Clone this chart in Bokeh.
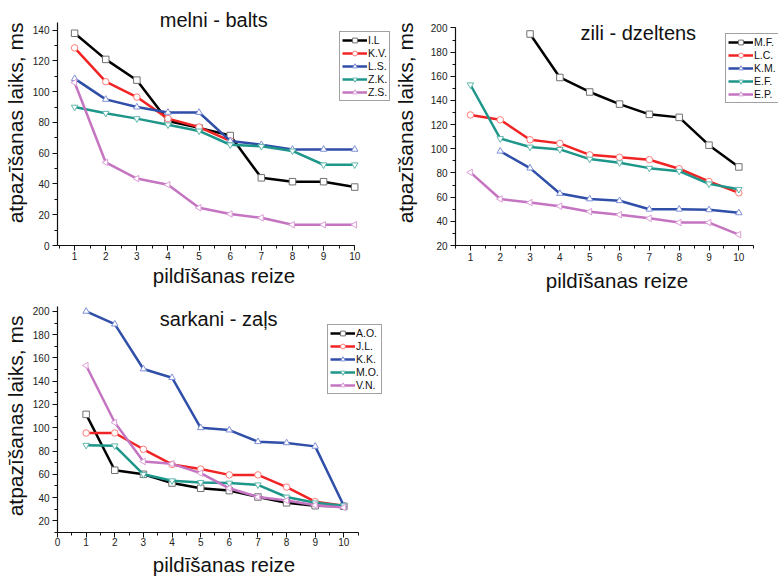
import math
from bokeh.plotting import figure
from bokeh.layouts import column, row
from bokeh.models import Range1d, SingleIntervalTicker, Label
from bokeh.embed import file_html
from bokeh.resources import INLINE

nan = float("nan")
reize = [1, 2, 3, 4, 5, 6, 7, 8, 9, 10]

# melni - balts
mb_names = ["I.L", "K.V.", "L.S.", "Z.K.", "Z.S."]
mb_IL = [138, 121, 107.5, 81, 76.5, 71.5, 44, 41.5, 41.5, 38]
mb_KV = [128.5, 106.5, 96.5, 82.5, 77, 68, nan, nan, nan, nan]
mb_LS = [108.5, 95, 90, 86.5, 86.5, 68, 65.5, 62.5, 62.5, 62.5]
mb_ZK = [90, 86, 82.5, 78.5, 74.5, 65.5, 64.5, 61.5, 52.5, 52.5]
mb_ZS = [106, 54, 43.5, 39.5, 24.5, 20.5, 18, 13.5, 13.5, 13.5]

# zili - dzeltens
zd_names = ["M.F.", "L.C.", "K.M.", "E.F.", "E.P."]
zd_MF = [nan, nan, 195, 159, 147, 137, 128.5, 126, 103, 85]
zd_LC = [128, 124, 107.5, 104.5, 95, 93, 91, 83.5, 73, 63.5]
zd_KM = [nan, 98, 84, 63, 58.5, 57, 50, 50, 49.5, 47]
zd_EF = [153, 108.5, 101.5, 99.5, 91.5, 88.5, 84, 81.5, 71, 66.5]
zd_EP = [80.5, 58.5, 55.5, 52.5, 48, 45.5, 42.5, 39, 39, 29]

# sarkani - zaļs
sz_names = ["A.O.", "J.L.", "K.K.", "M.O.", "V.N."]
sz_AO = [111.5, 63.5, 60, 52.5, 48, 46, 40.5, 35.5, 33, 32.5]
sz_JL = [95.5, 95.5, 81.5, 68.5, 64.5, 59.5, 59.5, 49, 36.5, 33]
sz_KK = [200, 189, 150.5, 143, 100, 98, 88, 87, 84, 33]
sz_MO = [85, 84.5, 60, 54.5, 53, 52.5, 51, 40.5, 35.5, 33]
sz_VN = [153.5, 104.5, 71, 69, 61, 48, 40.5, 37.5, 33.5, 31.5]

line_colors = ["#000000", "#f02424", "#2f4fa8", "#1e968a", "#c474c0"]
marker_colors = ["#707070", "#ff7a7a", "#7f90d6", "#5fb8ad", "#dc9ed8"]
markers = ["square", "circle", "triangle", "inverted_triangle", "triangle"]
angles = [0, 0, 0, 0, math.pi / 2]

FONT = "Liberation Sans"


def make_panel(w, h, xr, yr, xbounds, ybounds, borders, series, names, title, title_xy,
               legend_loc, x_std, y_std):
    p = figure(width=w, height=h, x_range=Range1d(*xr), y_range=Range1d(*yr),
               output_backend="svg", toolbar_location=None,
               min_border_left=borders[0], min_border_right=0,
               min_border_top=0, min_border_bottom=borders[1])
    p.grid.visible = False
    p.outline_line_color = None
    p.background_fill_color = "white"
    p.border_fill_color = "white"

    for ys, name, lc, mc, mk, ang in zip(series, names, line_colors, marker_colors, markers, angles):
        p.line(reize, ys, line_color=lc, line_width=2.5, legend_label=name)
        p.scatter(reize, ys, marker=mk, size=6.5, angle=ang, fill_color="white",
                  line_color=mc, line_width=1, legend_label=name)

    xa = p.xaxis[0]
    xa.ticker = SingleIntervalTicker(interval=1, num_minor_ticks=2)
    xa.bounds = xbounds
    xa.axis_label = "pildīšanas reize"
    xa.major_label_standoff = x_std[0]
    xa.axis_label_standoff = x_std[1]

    ya = p.yaxis[0]
    ya.ticker = SingleIntervalTicker(interval=20, num_minor_ticks=2)
    ya.bounds = ybounds
    ya.axis_label = "atpazīšanas laiks, ms"
    ya.major_label_standoff = y_std[0]
    ya.axis_label_standoff = y_std[1]

    for ax in (xa, ya):
        ax.axis_line_color = "#111111"
        ax.axis_line_width = 1.2
        ax.major_tick_in = 0
        ax.major_tick_out = 5
        ax.minor_tick_in = 0
        ax.minor_tick_out = 3
        ax.major_tick_line_color = "#111111"
        ax.minor_tick_line_color = "#111111"
        ax.major_label_text_font = FONT
        ax.major_label_text_font_size = "10px"
        ax.major_label_text_color = "#222222"
        ax.axis_label_text_font = FONT
        ax.axis_label_text_font_style = "normal"
        ax.axis_label_text_color = "#111111"
    xa.axis_label_text_font_size = "20.5px"
    ya.axis_label_text_font_size = "21px"

    p.add_layout(Label(x=title_xy[0], y=title_xy[1], text=title, text_align="center",
                       text_baseline="middle", text_font=FONT, text_font_size="20px",
                       text_color="#111111"))

    lg = p.legend[0]
    lg.location = legend_loc
    lg.label_text_font = FONT
    lg.label_text_font_size = "10.5px"
    lg.label_text_color = "#111111"
    lg.glyph_width = 25
    lg.glyph_height = 12
    lg.label_height = 12
    lg.label_width = 10
    lg.label_standoff = 1
    lg.spacing = 1
    lg.padding = 2
    lg.margin = 0
    lg.border_line_color = "#444444"
    lg.border_line_width = 1
    lg.background_fill_color = "white"
    lg.background_fill_alpha = 1
    return p


p1 = make_panel(390, 299, (0.45, 11.15), (0, 159.3), (0.45, 10), (0, 145), (55, 54),
                [mb_IL, mb_KV, mb_LS, mb_ZK, mb_ZS], mb_names, "melni - balts",
                (5.47, 146.3), (282, 144), (1, 1), (3, 3))
p2 = make_panel(388, 299, (0.5, 11.33), (20, 222.7), (0.5, 10.5), (20, 200), (63, 49),
                [zd_MF, zd_LC, zd_KM, zd_EF, zd_EP], zd_names, "zili - dzeltens",
                (6.63, 196), (270, 142), (2, 5), (3, 11))
p3 = make_panel(390, 280, (0, 11.63), (10, 210.2), (0, 10.5), (10, 204), (55, 47),
                [sz_AO, sz_JL, sz_KK, sz_MO, sz_VN], sz_names, "sarkani - zaļs",
                (5.63, 193.6), (270, 138), (0, 4), (3, 3))

layout = column(row(p1, p2), p3)
open("out.html", "w").write(file_html(layout, INLINE))
